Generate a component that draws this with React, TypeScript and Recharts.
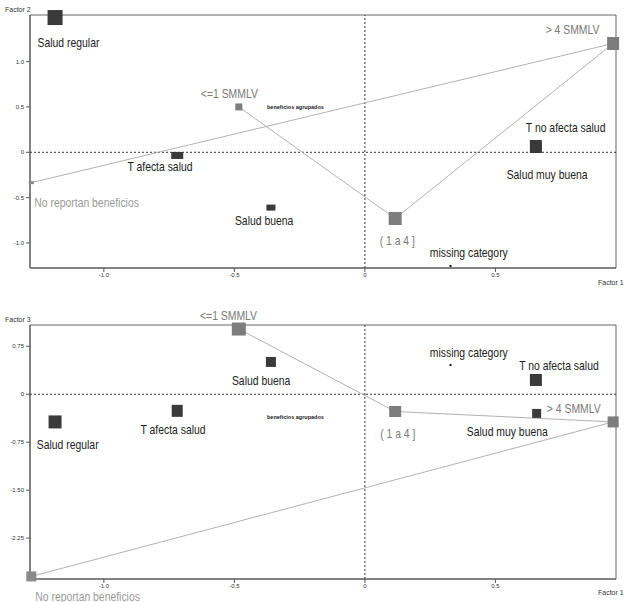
import {
  ScatterChart,
  Scatter,
  XAxis,
  YAxis,
  ReferenceLine,
  ReferenceArea,
  ReferenceDot,
} from "recharts";

// #region Correspondence analysis coordinates
export const categories = [
  "Salud regular",
  "T afecta salud",
  "Salud buena",
  "Salud muy buena",
  "T no afecta salud",
  "<=1 SMMLV",
  "( 1 a 4 ]",
  "> 4 SMMLV",
  "No reportan beneficios",
  "missing category",
];
export const factor1 = [-1.187, -0.719, -0.36, 0.658, 0.655, -0.483, 0.116, 0.951, -1.278, 0.328];
export const factor2 = [1.486, -0.035, -0.61, 0.055, 0.064, 0.5, -0.73, 1.2, -0.335, -1.254];
export const factor3 = [-0.433, -0.26, 0.505, -0.3, 0.223, 1.02, -0.27, -0.433, -2.85, 0.458];
// beneficios agrupados trajectory
export const trajectory = ["<=1 SMMLV", "( 1 a 4 ]", "> 4 SMMLV", "No reportan beneficios"];
export const xTicks = [-1, -0.5, 0, 0.5];
export const f2Ticks = [-1, -0.5, 0, 0.5, 1];
export const f3Ticks = [-2.25, -1.5, -0.75, 0, 0.75];
// #endregion

// marker kind per category: 0 health, 1 income, 2 no benefits, 3 missing
const kind = [0, 0, 0, 0, 0, 1, 1, 1, 2, 3];
const markerFill = ["#3a3a3a", "#7d7d7d", "#8a8a8a", "#111"];
const labelFill = ["#222", "#7a7a7a", "#9a9a9a", "#222"];

const markerSize: Record<string, number[][]> = {
  f2: [[15, 15], [12, 7], [9, 6], [10, 10], [12, 13], [7, 7], [13, 13], [12, 13], [5, 3], [2, 2]],
  f3: [[13, 13], [11, 12], [10, 10], [9, 9], [12, 12], [14, 13], [12, 11], [11, 11], [10, 10], [2, 2]],
};
const labelOffset: Record<string, number[][]> = {
  f2: [[-17.5, 29.5], [-49.8, 16], [-36, 17.5], [-30, 31.7], [-10, -14.8], [-38, -9], [-15.5, 26.5], [-67.5, -9.5], [3, 24], [-20.7, -9]],
  f3: [[-18.3, 27], [-36.7, 23], [-39, 23], [-69.8, 22.5], [-16.7, -10], [-38.8, -9], [-15, 26.3], [-66.3, -9], [4, 24.3], [-20.7, -8]],
};

const labelFont = "'Liberation Sans', Arial, sans-serif";
const tickFont = "'Liberation Sans', Arial, sans-serif";

const fmtX = (v: number) => (v === 0 ? "0" : v.toFixed(1));
const fmtF2 = (v: number) => (v === 0 ? "0" : v.toFixed(1));
const fmtF3 = (v: number) => (v === 0 ? "0" : v.toFixed(2));

const makeShape = (panel: string) => (props: any) => {
  const { cx, cy, payload } = props;
  const i = categories.indexOf(payload.name);
  const [w, h] = markerSize[panel][i];
  const [dx, dy] = labelOffset[panel][i];
  return (
    <g>
      <rect x={cx - w / 2} y={cy - h / 2} width={w} height={h} fill={markerFill[kind[i]]} />
      {/* narrow lettering like the original plot */}
      <text
        transform={`translate(${cx + dx},${cy + dy}) scale(0.8,1)`}
        x={0}
        y={0}
        fontSize={13}
        fontFamily={labelFont}
        fill={labelFill[kind[i]]}
      >
        {payload.name}
      </text>
    </g>
  );
};

const tickStyle = { fontSize: 6, fill: "#333", fontFamily: tickFont };

type PanelProps = {
  panel: string;
  yValues: number[];
  yDomain: [number, number];
  yTicks: number[];
  yFmt: (v: number) => string;
  height: number;
  margin: { top: number; right: number; bottom: number; left: number };
  annotY: number;
};

const Panel = ({ panel, yValues, yDomain, yTicks, yFmt, height, margin, annotY }: PanelProps) => {
  const xDomain: [number, number] = [-1.283, 0.962];
  const points = categories.map((name, i) => ({ name, x: factor1[i], y: yValues[i] }));
  const line = trajectory.map((name) => points.find((p) => p.name === name));
  return (
    <ScatterChart width={629} height={height} margin={margin}>
      <XAxis
        type='number'
        dataKey='x'
        domain={xDomain}
        ticks={xTicks}
        tickFormatter={fmtX}
        tick={tickStyle}
        tickSize={4}
        tickMargin={1}
        height={20}
        stroke='#555'
      />
      <YAxis
        type='number'
        dataKey='y'
        domain={yDomain}
        ticks={yTicks}
        tickFormatter={yFmt}
        tick={tickStyle}
        tickSize={4}
        width={30}
        stroke='#555'
      />
      <ReferenceArea
        x1={xDomain[0]}
        x2={xDomain[1]}
        y1={yDomain[0]}
        y2={yDomain[1]}
        fill='none'
        fillOpacity={0}
        stroke='#666'
        strokeWidth={1}
      />
      <ReferenceLine x={0} stroke='#333' strokeDasharray='2 2' />
      <ReferenceLine y={0} stroke='#333' strokeDasharray='2 2' />
      <Scatter
        data={line}
        line={{ stroke: "#b3b3b3", strokeWidth: 1 }}
        shape={() => <g />}
        isAnimationActive={false}
      />
      <Scatter data={points} shape={makeShape(panel)} isAnimationActive={false} />
      <ReferenceDot
        x={-0.375}
        y={annotY}
        r={0}
        fill='none'
        stroke='none'
        label={(p: any) => (
          <text
            x={p.viewBox.x}
            y={p.viewBox.y}
            fontSize={5.5}
            fontWeight='bold'
            fontFamily={tickFont}
            fill='#222'
          >
            beneficios agrupados
          </text>
        )}
      />
    </ScatterChart>
  );
};

const axisTitle = (top: number, left: number, text: string) => (
  <div
    style={{
      position: "absolute",
      top,
      left,
      fontSize: 7,
      fontFamily: tickFont,
      color: "#333",
      lineHeight: "8px",
      whiteSpace: "nowrap",
    }}
  >
    {text}
  </div>
);

const App = () => {
  return (
    <div style={{ position: "absolute", left: 0, top: 0, width: 629, height: 602, overflow: "hidden", background: "#fff" }}>
      <div style={{ position: "absolute", left: 0, top: 0 }}>
        <Panel
          panel='f2'
          yValues={factor2}
          yDomain={[-1.276, 1.514]}
          yTicks={f2Ticks}
          yFmt={fmtF2}
          height={300}
          margin={{ top: 15, right: 13, bottom: 12, left: 0 }}
          annotY={0.477}
        />
      </div>
      <div style={{ position: "absolute", left: 0, top: 300 }}>
        <Panel
          panel='f3'
          yValues={factor3}
          yDomain={[-2.89, 1.083]}
          yTicks={f3Ticks}
          yFmt={fmtF3}
          height={302}
          margin={{ top: 25, right: 13, bottom: 3, left: 0 }}
          annotY={-0.394}
        />
      </div>
      {axisTitle(6, 5, "Factor 2")}
      {axisTitle(279, 598, "Factor 1")}
      {axisTitle(316, 5, "Factor 3")}
      {axisTitle(589, 598, "Factor 1")}
    </div>
  );
};

export default App;
